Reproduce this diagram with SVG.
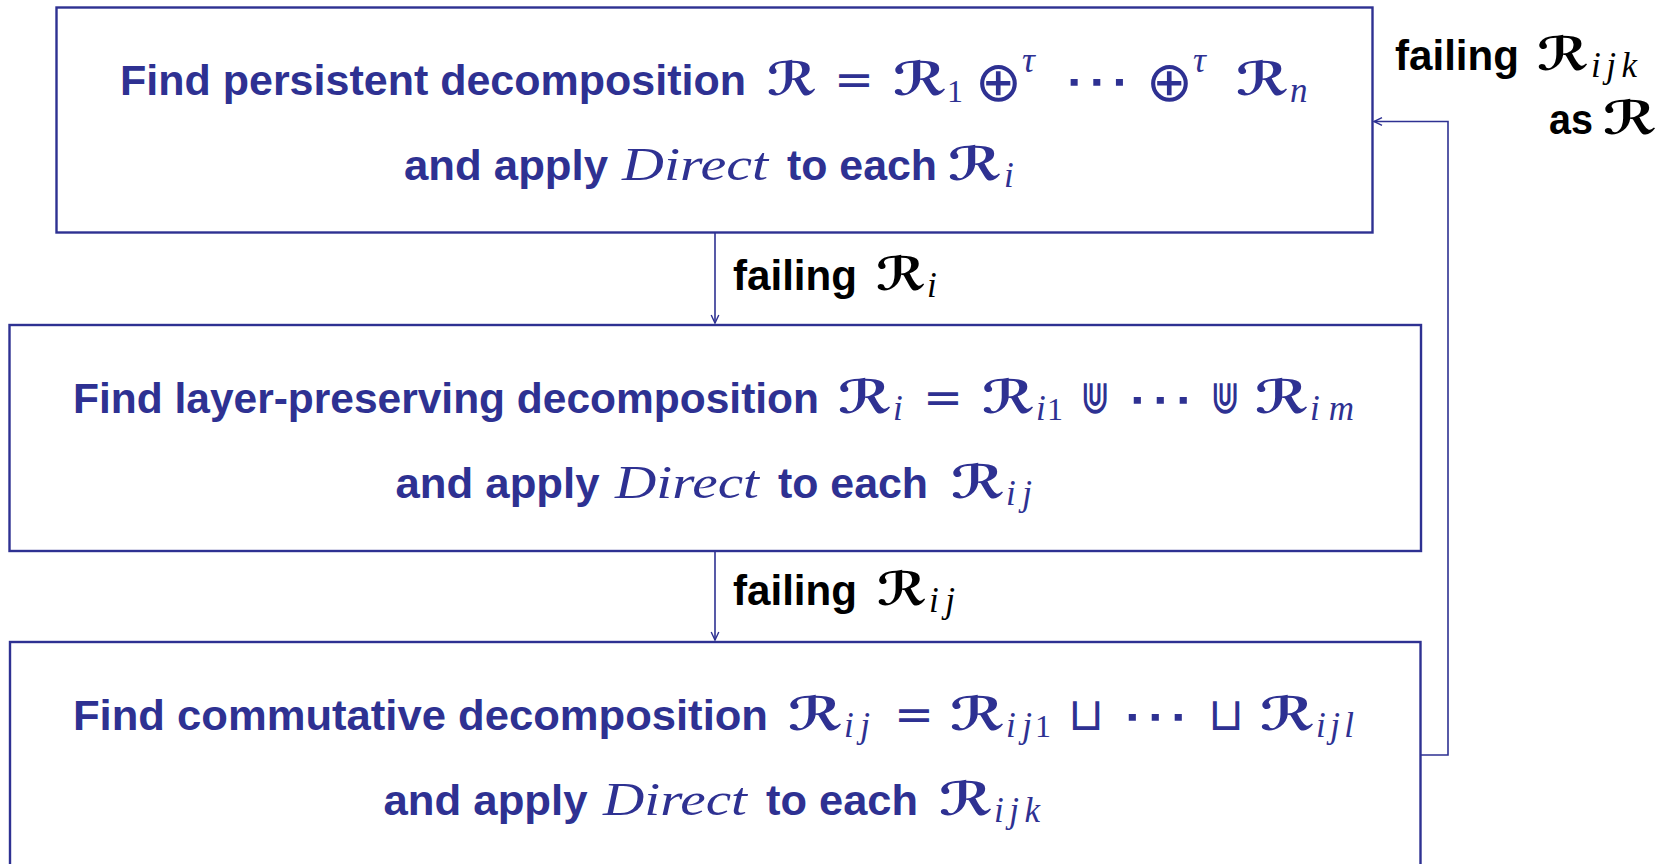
<svg xmlns="http://www.w3.org/2000/svg" width="1672" height="864" viewBox="0 0 1672 864">
<defs>
<style>
.box{fill:#fff;stroke:#2e3192;stroke-width:2.4}
.t{font-family:"Liberation Sans",Arial,sans-serif;font-weight:bold;font-size:42px;fill:#2e3192}
.lb{font-family:"Liberation Sans",Arial,sans-serif;font-weight:bold;font-size:42px;fill:#000}
.it{font-family:"Liberation Serif","Times New Roman",serif;font-style:italic;font-size:46px;fill:#2e3192}
.cal{font-family:"DejaVu Sans",sans-serif;font-weight:bold;font-size:46px;fill:#2e3192}
.sub{font-family:"Liberation Serif","Times New Roman",serif;font-style:italic;font-size:35px;fill:#2e3192}
.sup{font-family:"Liberation Serif","Times New Roman",serif;font-style:italic;font-size:36px;fill:#2e3192}
.num{font-family:"Liberation Serif","Times New Roman",serif;font-size:32px;fill:#2e3192}
.op{font-family:"DejaVu Sans",sans-serif;font-size:56px;fill:#2e3192}
.cup{font-family:"DejaVu Sans",sans-serif;font-size:46px;fill:#2e3192}
.dots{font-family:"DejaVu Sans",sans-serif;font-size:54px;fill:#2e3192}
.eq{font-family:"DejaVu Sans",sans-serif;font-size:44px;fill:#2e3192}
.k{fill:#000}
.conn{fill:none;stroke:#2e3192;stroke-width:1.6}
</style>
<marker id="ah" markerUnits="userSpaceOnUse" markerWidth="14" markerHeight="12" refX="0" refY="0" viewBox="-10 -6 12 12" orient="auto">
<path d="M-8,-3.8 Q-2.5,-1.2 0,0 Q-2.5,1.2 -8,3.8" fill="none" stroke="#2e3192" stroke-width="1.4"/>
</marker>
</defs>
<rect width="1672" height="864" fill="#fff"/>

<g id="connectors">
<path class="conn" d="M715,233 V323" marker-end="url(#ah)"/>
<path class="conn" d="M715,551 V640" marker-end="url(#ah)"/>
<path class="conn" d="M1421,755 H1448 V121.5 H1374" marker-end="url(#ah)"/>
<text class="lb" x="733" y="290" textLength="124" lengthAdjust="spacingAndGlyphs">failing</text>
<text class="cal k" x="876" y="290" textLength="50" lengthAdjust="spacingAndGlyphs">ℛ</text>
<text class="sub k" x="927" y="297">i</text>
<text class="lb" x="733" y="605" textLength="124" lengthAdjust="spacingAndGlyphs">failing</text>
<text class="cal k" x="877" y="605" textLength="50" lengthAdjust="spacingAndGlyphs">ℛ</text>
<text class="sub k" x="929" y="612" textLength="26">ij</text>
<text class="lb" x="1395" y="70" textLength="124" lengthAdjust="spacingAndGlyphs">failing</text>
<text class="cal k" x="1537" y="70" textLength="52" lengthAdjust="spacingAndGlyphs">ℛ</text>
<text class="sub k" x="1591" y="77" textLength="46">ijk</text>
<text class="lb" x="1549" y="134" textLength="44" lengthAdjust="spacingAndGlyphs">as</text>
<text class="cal k" x="1603" y="134" textLength="54" lengthAdjust="spacingAndGlyphs">ℛ</text>
</g>

<g id="node1">
<rect class="box" x="56.5" y="7.5" width="1316" height="225"/>
<text class="t" x="120" y="95" textLength="626" lengthAdjust="spacingAndGlyphs">Find persistent decomposition</text>
<text class="cal" x="767" y="95" textLength="50" lengthAdjust="spacingAndGlyphs">ℛ</text>
<text class="eq" x="834" y="95" textLength="40" lengthAdjust="spacingAndGlyphs">=</text>
<text class="cal" x="893" y="95" textLength="54" lengthAdjust="spacingAndGlyphs">ℛ</text>
<text class="num" x="947" y="102">1</text>
<text class="op" x="975" y="100.5">⊕</text>
<text class="sup" x="1022" y="72">τ</text>
<text class="dots" x="1063" y="99" textLength="68" lengthAdjust="spacingAndGlyphs">⋯</text>
<text class="op" x="1146" y="100.5">⊕</text>
<text class="sup" x="1193" y="72">τ</text>
<text class="cal" x="1236" y="95" textLength="53" lengthAdjust="spacingAndGlyphs">ℛ</text>
<text class="sub" x="1290" y="102">n</text>
<text class="t" x="404" y="180" textLength="204" lengthAdjust="spacingAndGlyphs">and apply</text>
<text class="it" x="622" y="180" textLength="146" lengthAdjust="spacingAndGlyphs">Direct</text>
<text class="t" x="787" y="180" textLength="150" lengthAdjust="spacingAndGlyphs">to each</text>
<text class="cal" x="948" y="180" textLength="54" lengthAdjust="spacingAndGlyphs">ℛ</text>
<text class="sub" x="1004" y="187">i</text>
</g>

<g id="node2">
<rect class="box" x="9.5" y="325" width="1411.5" height="226"/>
<text class="t" x="73" y="412.5" textLength="746" lengthAdjust="spacingAndGlyphs">Find layer-preserving decomposition</text>
<text class="cal" x="838" y="412.5" textLength="54" lengthAdjust="spacingAndGlyphs">ℛ</text>
<text class="sub" x="893" y="419.5">i</text>
<text class="eq" x="923" y="412.5" textLength="40" lengthAdjust="spacingAndGlyphs">=</text>
<text class="cal" x="982" y="412.5" textLength="53" lengthAdjust="spacingAndGlyphs">ℛ</text>
<text class="sub" x="1036" y="419.5">i</text>
<text class="num" x="1047" y="419.5">1</text>
<text class="cup" x="1080" y="413" textLength="30" lengthAdjust="spacingAndGlyphs">⋓</text>
<text class="dots" x="1126" y="416.5" textLength="69" lengthAdjust="spacingAndGlyphs">⋯</text>
<text class="cup" x="1210" y="413" textLength="30" lengthAdjust="spacingAndGlyphs">⋓</text>
<text class="cal" x="1255" y="412.5" textLength="54" lengthAdjust="spacingAndGlyphs">ℛ</text>
<text class="sub" x="1310" y="419.5" textLength="44">im</text>
<text class="t" x="395.5" y="497.5" textLength="204" lengthAdjust="spacingAndGlyphs">and apply</text>
<text class="it" x="615" y="497.5" textLength="144" lengthAdjust="spacingAndGlyphs">Direct</text>
<text class="t" x="778" y="497.5" textLength="150" lengthAdjust="spacingAndGlyphs">to each</text>
<text class="cal" x="951" y="497.5" textLength="54" lengthAdjust="spacingAndGlyphs">ℛ</text>
<text class="sub" x="1006" y="504.5" textLength="26">ij</text>
</g>

<g id="node3">
<rect class="box" x="10" y="642" width="1410.5" height="232"/>
<text class="t" x="73" y="730" textLength="695" lengthAdjust="spacingAndGlyphs">Find commutative decomposition</text>
<text class="cal" x="788" y="730" textLength="55" lengthAdjust="spacingAndGlyphs">ℛ</text>
<text class="sub" x="844" y="737" textLength="26">ij</text>
<text class="eq" x="894" y="730" textLength="40" lengthAdjust="spacingAndGlyphs">=</text>
<text class="cal" x="950" y="730" textLength="55" lengthAdjust="spacingAndGlyphs">ℛ</text>
<text class="sub" x="1006" y="737" textLength="26">ij</text>
<text class="num" x="1035" y="737">1</text>
<text class="cup" x="1068" y="730" textLength="36" lengthAdjust="spacingAndGlyphs">⊔</text>
<text class="dots" x="1121" y="734" textLength="69" lengthAdjust="spacingAndGlyphs">⋯</text>
<text class="cup" x="1208" y="730" textLength="36" lengthAdjust="spacingAndGlyphs">⊔</text>
<text class="cal" x="1260" y="730" textLength="55" lengthAdjust="spacingAndGlyphs">ℛ</text>
<text class="sub" x="1316" y="737" textLength="38">ijl</text>
<text class="t" x="383.5" y="815" textLength="204" lengthAdjust="spacingAndGlyphs">and apply</text>
<text class="it" x="603" y="815" textLength="144" lengthAdjust="spacingAndGlyphs">Direct</text>
<text class="t" x="766" y="815" textLength="152" lengthAdjust="spacingAndGlyphs">to each</text>
<text class="cal" x="939" y="815" textLength="54" lengthAdjust="spacingAndGlyphs">ℛ</text>
<text class="sub" x="994" y="822" textLength="46">ijk</text>
</g>
</svg>
